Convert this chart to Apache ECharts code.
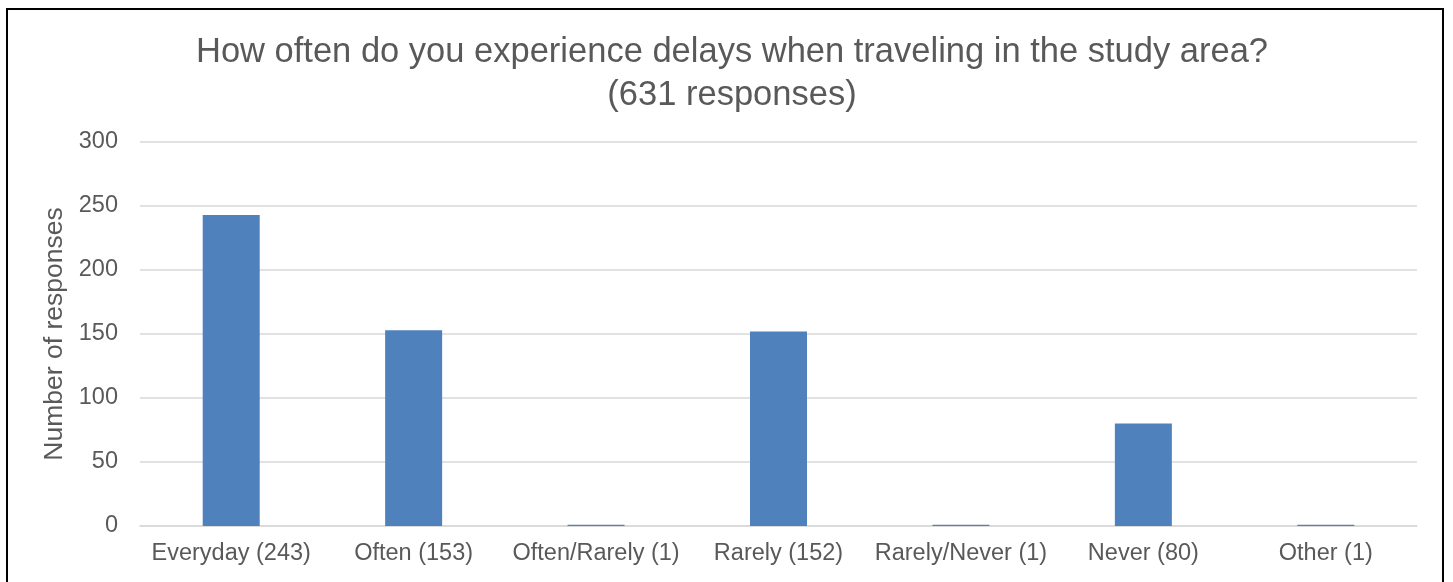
<!DOCTYPE html>
<html>
<head>
<meta charset="utf-8">
<script src="https://cdn.jsdelivr.net/npm/echarts@6/dist/echarts.min.js"></script>
<style>
  html, body { margin: 0; padding: 0; background: #fff; }
  #frame {
    position: absolute; left: 6px; top: 8px; width: 1438px; height: 600px;
    border: 2px solid #000; box-sizing: border-box;
  }
  #chart { position: absolute; left: 0; top: 0; width: 1453px; height: 582px; }
</style>
</head>
<body>
<div id="frame"></div>
<div id="chart"></div>
<script>
// categories and counts
const categories = ['Everyday (243)', 'Often (153)', 'Often/Rarely (1)', 'Rarely (152)', 'Rarely/Never (1)', 'Never (80)', 'Other (1)']
const responses = [243, 153, 1, 152, 1, 80, 1]
const titleLines = ['How often do you experience delays when traveling in the study area?', '(631 responses)']

const chart = echarts.init(document.getElementById('chart'), null, { renderer: 'canvas' })
const font = 'Liberation Sans, Arial, sans-serif'

const option = {
  animation: false,
  title: {
    text: titleLines.join('\n'),
    left: 727,
    textAlign: 'center',
    top: 26,
    textStyle: { fontFamily: font, fontSize: 34.5, fontWeight: 'normal', color: '#595959', lineHeight: 43 }
  },
  grid: { left: 140, right: 36, top: 142, bottom: 56 },
  xAxis: {
    type: 'category',
    data: categories,
    axisLine: { lineStyle: { color: '#d9d9d9', width: 1.5 } },
    axisTick: { show: false },
    axisLabel: { fontFamily: font, fontSize: 23.5, color: '#595959', margin: 16, interval: 0 }
  },
  yAxis: {
    type: 'value',
    min: 0,
    max: 300,
    interval: 50,
    name: 'Number of responses',
    nameLocation: 'middle',
    nameGap: 71,
    nameTextStyle: { fontFamily: font, fontSize: 26.5, color: '#595959' },
    axisLabel: { fontFamily: font, fontSize: 23.5, color: '#595959', margin: 22 },
    splitLine: { lineStyle: { color: '#d9d9d9', width: 1.5 } }
  },
  series: [
    {
      type: 'bar',
      data: responses,
      barWidth: 57,
      itemStyle: { color: '#4f81bd' }
    }
  ]
}
chart.setOption(option)
</script>
</body>
</html>
